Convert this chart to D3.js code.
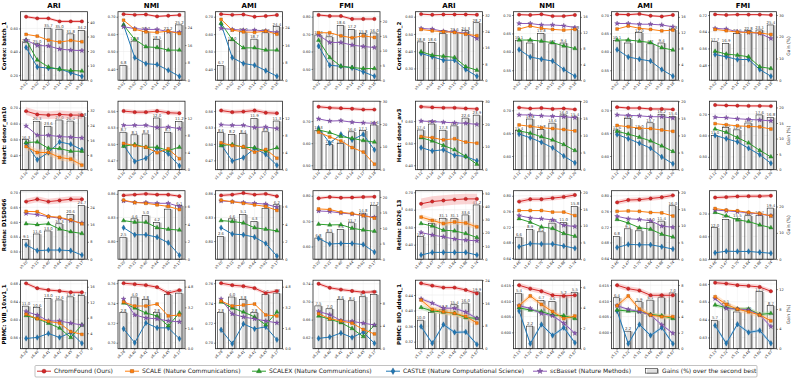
<!DOCTYPE html>
<html><head><meta charset="utf-8">
<script src="https://cdn.jsdelivr.net/npm/d3@7"></script>
<style>body{margin:0;background:#fff}svg{display:block}text{font-family:"DejaVu Sans",sans-serif}</style>
</head><body><svg id="c" width="793" height="381"></svg>
<script>
const metrics = ["ARI","NMI","AMI","FMI"];
const datasets = ["Cortex: batch_1","Cortex: batch_2","Heart: donor_an10","Heart: donor_av3","Retina: D1SD066","Retina: D026_13","PBMC: VIB_10xv1_1","PBMC: BIO_ddseq_1"];
const xLabels = [
 ["s5.01","s5.02","s5.12","s5.14","s5.15","s5.16"],
 ["s5.02","s5.04","s5.14","s5.15","s5.16","s5.18"],
 ["s1.10","s1.50","s1.52","s1.14","s1.17","s1.18"],
 ["s1.12","s1.14","s1.16","s1.18","s1.19","s1.20"],
 ["s5.20","s5.21","s5.40","s5.44","s5.91","s5.17"],
 ["s1.46","s1.47","s1.75","s1.84","s1.88","s1.74"],
 ["s6.28","s6.40","s6.41","s6.42","s6.45","s6.17"],
 ["s5.13","s5.22","s5.31","s5.48","s5.60","s5.67"]
];
// panel order: dataset-major, metric-minor (ARI, NMI, AMI, FMI)
const chromFound = [
 [0.700,0.686,0.686,0.660,0.660,0.660],[0.715,0.711,0.713,0.702,0.706,0.710],[0.715,0.711,0.713,0.700,0.704,0.710],[0.810,0.804,0.804,0.787,0.787,0.787],
 [0.615,0.611,0.613,0.613,0.613,0.611],[0.701,0.700,0.702,0.697,0.697,0.700],[0.702,0.701,0.703,0.698,0.696,0.700],[0.723,0.720,0.722,0.722,0.722,0.720],
 [0.679,0.658,0.654,0.658,0.654,0.654],[0.560,0.558,0.558,0.560,0.557,0.556],[0.561,0.558,0.559,0.561,0.557,0.556],[0.765,0.760,0.758,0.756,0.752,0.752],
 [0.665,0.662,0.660,0.660,0.657,0.655],[0.706,0.704,0.705,0.703,0.704,0.702],[0.707,0.705,0.705,0.703,0.703,0.702],[0.742,0.740,0.739,0.738,0.738,0.737],
 [0.669,0.677,0.669,0.673,0.677,0.677],[0.858,0.859,0.860,0.859,0.859,0.857],[0.858,0.859,0.861,0.859,0.860,0.857],[0.790,0.795,0.792,0.793,0.795,0.796],
 [0.634,0.647,0.653,0.658,0.662,0.662],[0.785,0.791,0.791,0.794,0.797,0.802],[0.783,0.789,0.790,0.793,0.796,0.801],[0.770,0.772,0.775,0.776,0.776,0.778],
 [0.681,0.670,0.666,0.664,0.661,0.661],[0.760,0.759,0.758,0.756,0.750,0.753],[0.760,0.758,0.757,0.755,0.750,0.752],[0.740,0.731,0.727,0.724,0.721,0.722],
 [0.470,0.464,0.459,0.459,0.453,0.444],[0.6150,0.6139,0.6131,0.6118,0.6116,0.6118],[0.6150,0.6139,0.6133,0.6118,0.6118,0.6118],[0.6607,0.6602,0.6593,0.6589,0.6583,0.6559]
];
const scale = [
 [0.549,0.534,0.500,0.483,0.497,0.486],[0.680,0.627,0.613,0.610,0.617,0.604],[0.685,0.623,0.613,0.610,0.617,0.600],[0.708,0.708,0.690,0.679,0.690,0.681],
 [0.526,0.518,0.513,0.509,0.499,0.490],[0.662,0.670,0.664,0.661,0.659,0.661],[0.662,0.670,0.664,0.661,0.657,0.659],[0.651,0.645,0.638,0.637,0.634,0.627],
 [0.455,0.417,0.417,0.386,0.375,0.337],[0.501,0.497,0.494,0.484,0.491,0.473],[0.502,0.497,0.495,0.485,0.490,0.474],[0.650,0.628,0.610,0.580,0.560,0.505],
 [0.530,0.525,0.515,0.520,0.505,0.500],[0.668,0.665,0.662,0.660,0.658,0.655],[0.667,0.664,0.661,0.660,0.657,0.654],[0.655,0.650,0.645,0.642,0.640,0.630],
 [0.636,0.635,0.619,0.616,0.607,0.594],[0.852,0.849,0.848,0.846,0.844,0.840],[0.852,0.850,0.848,0.846,0.844,0.839],[0.748,0.746,0.735,0.730,0.722,0.712],
 [0.558,0.539,0.521,0.530,0.524,0.502],[0.762,0.762,0.762,0.758,0.758,0.749],[0.760,0.761,0.760,0.757,0.756,0.748],[0.722,0.715,0.712,0.705,0.700,0.690],
 [0.612,0.602,0.596,0.592,0.573,0.567],[0.741,0.737,0.737,0.739,0.727,0.728],[0.742,0.737,0.738,0.739,0.728,0.727],[0.673,0.662,0.657,0.652,0.638,0.628],
 [0.427,0.403,0.397,0.393,0.385,0.368],[0.6085,0.6116,0.6089,0.6066,0.6044,0.6052],[0.6085,0.6116,0.6074,0.6055,0.6050,0.6050],[0.6528,0.6485,0.6459,0.6444,0.6426,0.6393]
];
const scalex = [
 [0.500,0.330,0.270,0.250,0.240,0.235],[0.652,0.570,0.527,0.523,0.508,0.508],[0.662,0.569,0.521,0.521,0.508,0.508],[0.665,0.565,0.515,0.508,0.502,0.502],
 [0.397,0.377,0.371,0.364,0.310,0.290],[0.632,0.632,0.629,0.625,0.616,0.609],[0.632,0.632,0.629,0.625,0.611,0.605],[0.547,0.533,0.528,0.520,0.472,0.464],
 [0.480,0.484,0.444,0.442,0.425,0.425],[0.496,0.499,0.494,0.494,0.488,0.494],[0.497,0.499,0.494,0.493,0.487,0.493],[0.660,0.648,0.630,0.622,0.612,0.605],
 [0.525,0.510,0.490,0.470,0.440,0.405],[0.655,0.650,0.642,0.635,0.625,0.612],[0.654,0.648,0.641,0.633,0.622,0.610],[0.630,0.615,0.590,0.565,0.530,0.500],
 [0.594,0.591,0.594,0.576,0.567,0.561],[0.826,0.824,0.824,0.817,0.815,0.814],[0.826,0.825,0.823,0.817,0.815,0.813],[0.688,0.685,0.686,0.672,0.665,0.660],
 [0.521,0.507,0.483,0.479,0.464,0.441],[0.741,0.732,0.720,0.716,0.703,0.696],[0.739,0.730,0.718,0.714,0.701,0.694],[0.705,0.690,0.672,0.665,0.650,0.638],
 [0.609,0.602,0.592,0.581,0.560,0.588],[0.740,0.735,0.730,0.727,0.717,0.730],[0.741,0.735,0.731,0.726,0.718,0.731],[0.668,0.661,0.653,0.640,0.622,0.647],
 [0.408,0.399,0.396,0.393,0.382,0.380],[0.6078,0.6071,0.6066,0.6055,0.6053,0.6044],[0.6071,0.6068,0.6066,0.6057,0.6053,0.6044],[0.6482,0.6467,0.6459,0.6459,0.6429,0.6435]
];
const castle = [
 [0.437,0.270,0.260,0.254,0.220,0.190],[0.652,0.465,0.430,0.425,0.392,0.357],[0.658,0.465,0.431,0.421,0.390,0.358],[0.631,0.521,0.515,0.506,0.483,0.458],
 [0.387,0.368,0.348,0.348,0.294,0.255],[0.606,0.586,0.580,0.575,0.552,0.534],[0.606,0.586,0.580,0.575,0.552,0.534],[0.531,0.520,0.507,0.507,0.459,0.427],
 [0.474,0.371,0.417,0.484,0.469,0.434],[0.498,0.468,0.474,0.492,0.482,0.460],[0.499,0.469,0.475,0.492,0.481,0.461],[0.668,0.600,0.640,0.615,0.640,0.570],
 [0.480,0.465,0.470,0.445,0.440,0.420],[0.648,0.640,0.630,0.618,0.600,0.585],[0.647,0.638,0.628,0.617,0.598,0.583],[0.600,0.585,0.570,0.540,0.510,0.470],
 [0.522,0.503,0.505,0.505,0.503,0.488],[0.817,0.808,0.808,0.805,0.798,0.782],[0.817,0.809,0.808,0.805,0.797,0.781],[0.632,0.610,0.612,0.612,0.608,0.578],
 [0.341,0.356,0.356,0.356,0.356,0.341],[0.669,0.677,0.676,0.676,0.671,0.665],[0.667,0.675,0.674,0.674,0.669,0.663],[0.528,0.535,0.534,0.534,0.530,0.526],
 [0.558,0.560,0.569,0.560,0.571,0.547],[0.714,0.700,0.720,0.715,0.715,0.704],[0.713,0.699,0.719,0.714,0.716,0.703],[0.618,0.621,0.630,0.620,0.632,0.607],
 [0.359,0.316,0.364,0.344,0.345,0.313],[0.6068,0.5964,0.6025,0.5990,0.6015,0.5967],[0.6068,0.5964,0.6025,0.5990,0.6015,0.5964],[0.6367,0.6267,0.6374,0.6328,0.6339,0.6267]
];
const scbasset = [
 [0.500,0.454,0.450,0.423,0.414,0.410],[0.642,0.632,0.627,0.627,0.615,0.610],[0.633,0.627,0.623,0.623,0.619,0.610],[0.694,0.652,0.652,0.637,0.629,0.623],
 [0.532,0.528,0.516,0.513,0.503,0.474],[0.677,0.677,0.673,0.673,0.671,0.666],[0.677,0.677,0.675,0.675,0.673,0.668],[0.656,0.653,0.640,0.637,0.632,0.608],
 [0.585,0.526,0.526,0.518,0.514,0.509],[0.534,0.534,0.534,0.530,0.531,0.528],[0.535,0.534,0.534,0.530,0.531,0.528],[0.710,0.700,0.702,0.695,0.692,0.690],
 [0.600,0.598,0.595,0.592,0.590,0.585],[0.690,0.690,0.688,0.687,0.686,0.684],[0.690,0.689,0.688,0.686,0.686,0.683],[0.685,0.683,0.678,0.675,0.672,0.668],
 [0.629,0.625,0.618,0.613,0.605,0.596],[0.851,0.849,0.849,0.848,0.848,0.844],[0.851,0.850,0.849,0.848,0.847,0.843],[0.740,0.738,0.732,0.728,0.722,0.715],
 [0.470,0.455,0.445,0.432,0.426,0.422],[0.749,0.743,0.741,0.738,0.724,0.721],[0.747,0.741,0.739,0.736,0.722,0.719],[0.715,0.712,0.708,0.703,0.698,0.690],
 [0.618,0.610,0.597,0.597,0.592,0.588],[0.744,0.728,0.725,0.724,0.722,0.721],[0.744,0.729,0.726,0.724,0.722,0.720],[0.678,0.671,0.658,0.656,0.652,0.648],
 [0.430,0.419,0.406,0.406,0.396,0.380],[0.6085,0.6076,0.6060,0.6053,0.6029,0.5997],[0.6085,0.6073,0.6066,0.6055,0.6024,0.5997],[0.6518,0.6463,0.6459,0.6454,0.6426,0.6361]
];
const gains = [
 [25.7,25.0,35.7,35.0,31.8,34.2],[6.8,17.8,22.2,18.5,22.2,25.2],[6.7,18.0,22.0,18.7,21.6,24.4],[15.3,14.7,18.6,17.2,15.8,16.0],
 [18.8,18.6,22.8,23.6,24.3,28.2],[10.1,9.4,11.8,9.2,9.4,12.8],[10.1,9.4,12.0,9.2,9.4,12.8],[17.7,16.9,21.5,22.8,23.1,25.4],
 [16.3,26.3,23.6,27.0,26.4,28.8],[8.7,8.1,8.3,12.0,8.7,11.2],[8.6,8.2,8.4,11.9,8.8,11.3],[17.3,11.1,11.4,16.6,17.1,19.6],
 [17.4,20.0,17.3,19.2,22.6,23.9],[11.4,14.8,11.8,13.6,16.0,15.4],[11.6,14.9,12.0,13.7,16.2,15.6],[11.0,13.5,12.8,15.0,17.6,16.8],
 [9.1,11.6,13.0,16.3,20.6,24.7],[2.5,4.6,5.0,4.2,5.7,6.1],[2.6,4.6,5.1,4.3,5.8,6.2],[6.8,8.5,9.6,11.7,14.8,17.2],
 [17.2,27.3,31.1,31.1,33.6,41.2],[6.6,8.9,8.2,10.8,11.0,15.8],[6.8,9.1,8.5,11.0,11.4,16.0],[12.0,15.1,15.5,16.5,16.7,19.4],
 [11.0,10.6,13.0,12.6,13.4,13.7],[2.8,4.0,3.8,2.8,4.2,4.3],[2.8,4.0,3.8,2.8,4.2,4.3],[7.5,7.0,8.6,8.4,9.1,9.5],
 [10.0,12.7,13.8,15.4,16.0,19.9],[5.4,2.2,4.7,4.6,5.2,5.5],[6.4,2.2,5.9,6.1,6.4,7.0],[5.7,9.1,7.4,7.6,11.5,8.7]
];
const chromStd = [0.012,0.006,0.006,0.008, 0.006,0.003,0.003,0.004, 0.025,0.004,0.004,0.008, 0.008,0.003,0.003,0.006, 0.010,0.002,0.002,0.006, 0.030,0.006,0.006,0.008, 0.004,0.002,0.002,0.004, 0.005,0.0008,0.0008,0.0012];
const scaleStd = [0,0,0,0, 0,0,0,0, 0.02,0,0,0, 0,0,0,0, 0,0,0,0, 0.015,0,0,0, 0,0,0,0, 0.008,0.0008,0.0008,0.0015];
const scalexStd = [0,0,0,0, 0,0,0,0, 0,0,0,0, 0,0,0,0, 0,0,0,0, 0,0,0,0, 0,0,0,0, 0.006,0.0006,0.0006,0.0012];
const scbassetStd = [0,0,0,0, 0,0,0,0, 0,0,0,0, 0,0,0,0, 0,0,0,0, 0,0,0,0, 0,0,0,0, 0.004,0.0004,0.0004,0.0008];
const castleStd = [0,0,0,0, 0,0,0,0, 0,0,0,0, 0,0,0,0, 0,0,0,0, 0,0,0,0, 0,0,0,0, 0.004,0.0005,0.0005,0.001];
const leftDomain = [
 [0.157,0.743],[0.335,0.729],[0.335,0.729],[0.435,0.829],
 [0.232,0.629],[0.523,0.709],[0.523,0.709],[0.408,0.736],
 [0.308,0.742],[0.453,0.578],[0.453,0.578],[0.48,0.79],
 [0.38,0.69],[0.57,0.72],[0.57,0.72],[0.44,0.76],
 [0.474,0.706],[0.777,0.864],[0.777,0.864],[0.55,0.82],
 [0.317,0.709],[0.637,0.813],[0.637,0.813],[0.50,0.80],
 [0.535,0.688],[0.694,0.763],[0.694,0.763],[0.595,0.748],
 [0.302,0.478],[0.5948,0.6166],[0.5948,0.6166],[0.6237,0.6621]
];
const leftTicks = [
 [0.2,0.4,0.6],[0.4,0.5,0.6,0.7],[0.4,0.5,0.6,0.7],[0.5,0.6,0.7,0.8],
 [0.3,0.4,0.5,0.6],[0.55,0.6,0.65,0.7],[0.55,0.6,0.65,0.7],[0.48,0.56,0.64,0.72],
 [0.4,0.5,0.6,0.7],[0.47,0.5,0.53,0.56],[0.47,0.5,0.53,0.56],[0.5,0.6,0.7],
 [0.4,0.5,0.6],[0.6,0.65,0.7],[0.6,0.65,0.7],[0.5,0.6,0.7],
 [0.5,0.55,0.6,0.65,0.7],[0.8,0.83,0.86],[0.8,0.83,0.86],[0.6,0.7,0.8],
 [0.4,0.5,0.6,0.7],[0.64,0.68,0.72,0.76,0.8],[0.64,0.68,0.72,0.76,0.8],[0.5,0.6,0.7],
 [0.56,0.6,0.64,0.68],[0.7,0.72,0.74,0.76],[0.7,0.72,0.74,0.76],[0.62,0.66,0.7,0.74],
 [0.32,0.36,0.4,0.44],[0.6,0.605,0.61,0.615],[0.6,0.605,0.61,0.615],[0.63,0.64,0.65,0.66]
];
const rightMax = [47,31.2,31.2,23.2, 33.6,17.3,17.3,31.5, 37.2,15.9,15.9,30, 30,20,20,22, 31.5,7.8,7.8,22, 52,20.5,20.5,26, 17.7,5.3,5.3,12, 24,6.67,8.6,13.8];
const rightTicks = [
 [0,10,20,30,40],[0,8,16,24],[0,8,16,24],[0,5,10,15,20],
 [0,8,16,24,32],[0,4,8,12,16],[0,4,8,12,16],[0,10,20,30],
 [0,8,16,24,32],[0,4,8,12],[0,4,8,12],[0,10,20,30],
 [0,10,20,30],[0,5,10,15,20],[0,5,10,15,20],[0,5,10,15,20],
 [0,8,16,24],[0,2,4,6],[0,2,4,6],[0,5,10,15,20],
 [0,10,20,30,40,50],[0,5,10,15,20],[0,5,10,15,20],[0,10,20],
 [0,4,8,12,16],[0,1.6,3.2,4.8],[0,1.6,3.2,4.8],[0,4,8],
 [0,8,16,24],[0,2,4,6],[0,2,4,6,8],[0,4,8,12]
];
const legendNames = ["ChromFound (Ours)","SCALE (Nature Communications)","SCALEX (Nature Communications)","CASTLE (Nature Computational Science)","scBasset (Nature Methods)","Gains (%) over the second best"];

const svg = d3.select("#c");
const defs = svg.append("defs");
const colL = [20.5,118,215.5,313,415.5,513.5,611.5,709.5];
const PW = 67, PH = 68.5, TOP = 11.7, RSTEP = 89.5;
const series = [
 {data:castle, std:castleStd, color:"#1f77b4", edge:"#174a73", band:"#8fbbe0", sym:d3.symbolDiamond, size:9},
 {data:scalex, std:scalexStd, color:"#2ca02c", edge:"#1a5e1a", band:"#9fd89f", sym:d3.symbolTriangle, size:8},
 {data:scbasset, std:scbassetStd, color:"#8e5bb8", edge:"#4e2a70", band:"#cdb5e3", sym:d3.symbolStar, size:7},
 {data:scale, std:scaleStd, color:"#ff7f0e", edge:"#9a4a05", band:"#ffc48f", sym:d3.symbolSquare, size:8},
 {data:chromFound, std:chromStd, color:"#d62728", edge:"#821616", band:"#f3a0a0", sym:d3.symbolCircle, size:9}
];
function decs(arr){return d3.max(arr,t=>{const s=String(+t.toFixed(6));const i=s.indexOf('.');return i<0?0:s.length-i-1;});}

for(let p=0;p<32;p++){
 const d=Math.floor(p/4), m=p%4, row=Math.floor(d/2), g=d%2, col=g*4+m;
 const L=colL[col], R=L+PW, T=TOP+row*RSTEP, B=T+PH;
 const x=d3.scaleBand().domain(d3.range(6)).range([L,R]);
 const cx=i=>x(i)+x.bandwidth()/2;
 const yL=d3.scaleLinear().domain(leftDomain[p]).range([B,T]);
 const yR=d3.scaleLinear().domain([0,rightMax[p]]).range([B,T]);
 const gp=svg.append("g");
 defs.append("clipPath").attr("id","cp"+p).append("rect").attr("x",L).attr("y",T).attr("width",PW).attr("height",PH);
 // grid
 leftTicks[p].forEach(t=>gp.append("line").attr("x1",L).attr("x2",R).attr("y1",yL(t)).attr("y2",yL(t)).attr("stroke","#e4e4e4").attr("stroke-width",0.4));
 d3.range(6).forEach(i=>gp.append("line").attr("x1",cx(i)).attr("x2",cx(i)).attr("y1",T).attr("y2",B).attr("stroke","#ececec").attr("stroke-width",0.4));
 // bars (outlined bar with a grey shadow)
 const bw=x.bandwidth()*0.56;
 gains[p].forEach((v,i)=>{
   const bx=cx(i)-bw/2-0.6, by=yR(v);
   gp.append("rect").attr("x",bx+2).attr("y",by+0.3).attr("width",bw).attr("height",B-by-0.3).attr("fill","#b8b8b8");
   gp.append("rect").attr("x",bx).attr("y",by).attr("width",bw).attr("height",B-by).attr("fill","#fff").attr("fill-opacity",0.55).attr("stroke","#222").attr("stroke-width",0.6);
   gp.append("text").attr("x",bx+bw/2+0.5).attr("y",by-1).attr("text-anchor","middle").attr("font-size",3.9).attr("fill","#444").text(d3.format(".1f")(v));
 });
 // bands
 const bandG=gp.append("g").attr("clip-path",`url(#cp${p})`);
 series.forEach(s=>{
   const sd=s.std[p]; if(!sd) return;
   const area=d3.area().x((v,i)=>cx(i)).y0(v=>yL(v-sd)).y1(v=>yL(v+sd));
   bandG.append("path").attr("d",area(s.data[p])).attr("fill",s.band).attr("opacity",0.45);
 });
 // lines
 series.forEach(s=>{
   const vals=s.data[p];
   const line=d3.line().x((v,i)=>cx(i)).y(v=>yL(v));
   gp.append("path").attr("d",line(vals)).attr("fill","none").attr("stroke",s.color).attr("stroke-width",1);
   const sym=d3.symbol().type(s.sym).size(s.size);
   vals.forEach((v,i)=>gp.append("path").attr("d",sym()).attr("transform",`translate(${cx(i)},${yL(v)})`).attr("fill",s.color).attr("stroke",s.edge).attr("stroke-width",0.35));
 });
 // frame
 gp.append("rect").attr("x",L).attr("y",T).attr("width",PW).attr("height",PH).attr("fill","none").attr("stroke","#262626").attr("stroke-width",0.8);
 // axes
 const ld=Math.max(2,decs(leftTicks[p]));
 const gl=gp.append("g").attr("transform",`translate(${L},0)`).call(d3.axisLeft(yL).tickValues(leftTicks[p]).tickSize(1.5).tickPadding(1).tickFormat(d3.format(`.${ld}f`)));
 const rd=decs(rightTicks[p]);
 const gr=gp.append("g").attr("transform",`translate(${R},0)`).call(d3.axisRight(yR).tickValues(rightTicks[p]).tickSize(1.5).tickPadding(1.2).tickFormat(d3.format(`.${rd}f`)));
 const gb=gp.append("g").attr("transform",`translate(0,${B})`).call(d3.axisBottom(x).tickSize(1.5).tickPadding(1).tickFormat(i=>xLabels[d][i]));
 [gl,gr,gb].forEach(a=>{a.attr("font-family","DejaVu Sans").attr("font-size",3.5);a.select(".domain").remove();a.selectAll("line").attr("stroke","#222").attr("stroke-width",0.5);a.selectAll("text").attr("fill","#222");});
 gb.selectAll("text").attr("transform","rotate(-45)").attr("text-anchor","end").attr("dx","-0.3em").attr("dy","0.25em");
 // titles & labels
 if(row===0) svg.append("text").attr("x",(L+R)/2).attr("y",8).attr("text-anchor","middle").attr("font-size",7).attr("font-weight","bold").text(metrics[m]);
 if(m===0) svg.append("text").attr("transform",`translate(${L-14.5},${(T+B)/2}) rotate(-90)`).attr("text-anchor","middle").attr("font-size",5.5).attr("font-weight","bold").text(datasets[d]);
 if(col===7) svg.append("text").attr("transform",`translate(${R+13.5},${(T+B)/2}) rotate(-90)`).attr("text-anchor","middle").attr("font-size",4.5).attr("fill","#222").text("Gain (%)");
}

// legend
const lg=svg.append("g");
lg.append("rect").attr("x",35).attr("y",365.5).attr("width",722).attr("height",11.5).attr("rx",1).attr("fill","#fff").attr("stroke","#999").attr("stroke-width",0.6);
const legOrder=[4,3,1,0,2];
const legX=[37,125,252,386,533];
legOrder.forEach((si,k)=>{
  const s=series[si], x0=legX[k], yy=371.2;
  lg.append("line").attr("x1",x0).attr("x2",x0+14).attr("y1",yy).attr("y2",yy).attr("stroke",s.color).attr("stroke-width",1);
  lg.append("path").attr("d",d3.symbol().type(s.sym).size(s.size*1.4)()).attr("transform",`translate(${x0+7},${yy})`).attr("fill",s.color).attr("stroke",s.edge).attr("stroke-width",0.4);
  lg.append("text").attr("x",x0+17).attr("y",yy+2.1).attr("font-size",6).attr("fill","#222").text(legendNames[k]);
});
lg.append("rect").attr("x",647).attr("y",369.2).attr("width",12).attr("height",4.5).attr("fill","#b8b8b8");
lg.append("rect").attr("x",645.5).attr("y",368.6).attr("width",12).attr("height",4.5).attr("fill","#fff").attr("fill-opacity",0.55).attr("stroke","#222").attr("stroke-width",0.6);
lg.append("text").attr("x",662).attr("y",373.3).attr("font-size",6).attr("fill","#222").text(legendNames[5]);
</script></body></html>
